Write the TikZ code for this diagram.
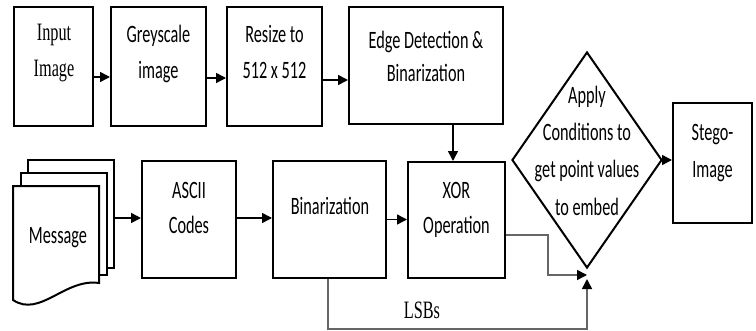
\documentclass[tikz,border=0pt]{standalone}
\usepackage{fontspec}
\setmainfont{Carlito}[FakeStretch=0.65]
\newfontfamily\serifcond{Liberation Serif}[FakeStretch=0.65]
\usetikzlibrary{arrows.meta,shapes.geometric}
\begin{document}
\begin{tikzpicture}[x=1pt,y=-1pt,
  box/.style={draw, line width=2pt, inner sep=0, minimum height=119pt},
  txt/.style={align=center, inner sep=0, anchor=base, font=\fontsize{25}{36}\selectfont},
  sertxt/.style={txt, font=\serifcond\fontsize{25}{36}\selectfont},
  sheet/.style={draw, line width=2pt, fill=white},
  arr/.style={line width=1.5pt, -{Triangle[length=10pt,width=10pt]}},
  garr/.style={line width=1.5pt, draw=black!60, -{Triangle[length=10pt,width=10pt,color=black]}}]
\useasboundingbox (0,0) rectangle (756,330);
% top row
\node[box, minimum width=79pt] (inp) at (53.5,66.5) {};
\node[box, minimum width=95pt] (grey) at (158.5,66.5) {};
\node[box, minimum width=95pt] (resize) at (274.5,66.5) {};
\node[box, minimum width=154pt, minimum height=117pt] (edge) at (426,65.5) {};
% bottom row
\node[box, minimum width=94pt, minimum height=117pt] (ascii) at (189,219.5) {};
\node[box, minimum width=113pt, minimum height=117pt] (bin) at (329.5,219.5) {};
\node[box, minimum width=97pt, minimum height=116pt] (xor) at (456.5,220) {};
\node[box, minimum width=79pt, minimum height=120pt] (stego) at (712.5,163) {};
\node[draw, line width=2pt, shape=diamond, inner sep=0, minimum width=150pt, minimum height=216pt] (dia) at (587,160) {};
% message document stack
\draw[sheet] (28,160) rectangle (114,268);
\draw[sheet] (21,173) rectangle (107,275);
\draw[sheet] (13,186) -- (99,186) -- (99,283) .. controls (65,278) and (40,318) .. (13,300) -- cycle;
\coordinate (msg) at (115,218);
% texts (anchor = baseline of last line)
\node[sertxt] (tinp) at (54,76.7) {Input\\Image};
\node[txt] (tgrey) at (158.5,78) {Greyscale\\image};
\node[txt] (tresize) at (274.5,78) {Resize to\\512 x 512};
\node[txt, font=\fontsize{25}{33}\selectfont] (tedge) at (426,81) {Edge Detection \&\\Binarization};
\node[txt, font=\fontsize{25}{37.3}\selectfont] (tdia) at (587,215) {Apply\\Conditions to\\get point values\\to embed};
\node[txt, font=\fontsize{25}{37}\selectfont] (tstego) at (712.5,177) {Stego-\\Image};
\node[txt] (tmsg) at (58,243) {Message};
\node[txt, font=\fontsize{25}{35}\selectfont] (tascii) at (189,233) {ASCII\\Codes};
\node[txt] (tbin) at (330,214) {Binarization};
\node[txt, font=\fontsize{25}{35}\selectfont] (txor) at (456.5,233) {XOR\\Operation};
\node[sertxt] (tlsb) at (422,318) {LSBs};
% arrows
\draw[arr] ([yshift=-10.5pt]inp.east) -- ([yshift=-10.5pt]inp.east -| grey.west);
\draw[arr] ([yshift=-11.5pt]grey.east) -- ([yshift=-11.5pt]grey.east -| resize.west);
\draw[arr] ([yshift=-13.5pt]resize.east) -- ([yshift=-13.5pt]resize.east -| edge.west);
\draw[arr] ([xshift=27pt]edge.south) -- ([xshift=27pt]edge.south |- xor.north);
\draw[arr] (msg) -- (msg -| ascii.west);
\draw[arr] ([yshift=1.5pt]ascii.east) -- ([yshift=1.5pt]ascii.east -| bin.west);
\draw[arr] (bin.east) -- (bin.east -| xor.west);
\draw[arr] (dia.east) -- (dia.east -| stego.west);
\draw[garr] ([yshift=-15pt]xor.east) -- ++(42,0) |- ([yshift=-6pt]dia.south);
\draw[garr] ([xshift=-1.5pt]bin.south) -- ++(0,50) -| ([yshift=-10pt]dia.south);
\end{tikzpicture}
\end{document}
